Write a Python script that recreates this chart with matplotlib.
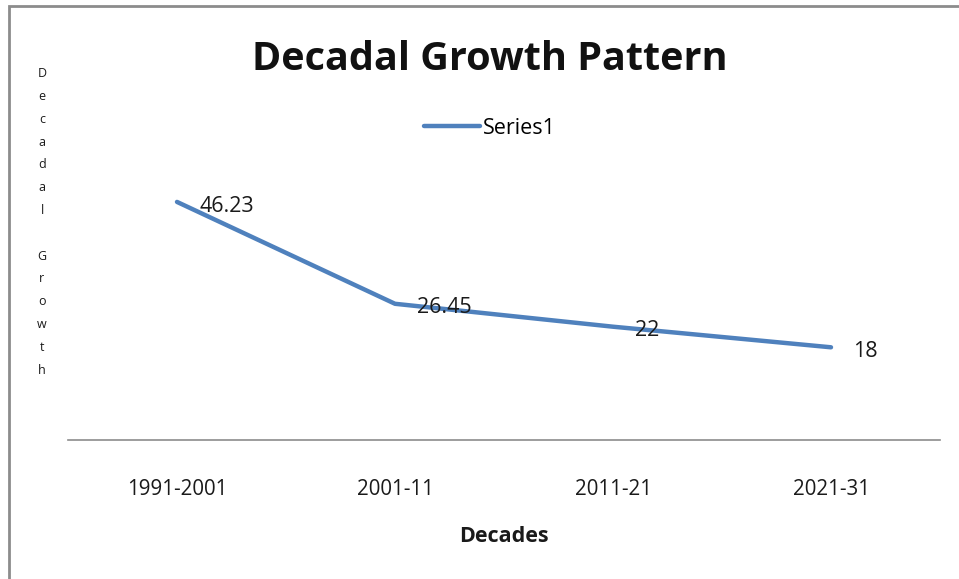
import matplotlib.pyplot as plt
from matplotlib.patches import Rectangle

decades = ['1991-2001', '2001-11', '2011-21', '2021-31']
growth = [46.23, 26.45, 22, 18]

plt.rcParams['font.family'] = ['Open Sans', 'DejaVu Sans']

fig = plt.figure(figsize=(9.59, 5.79), dpi=100)
ax = fig.add_axes([68 / 959, 139 / 579, 872 / 959, 60 * 5.15 / 579])

x = range(len(decades))
ax.plot(x, growth, color='#4F81BD', linewidth=3.2, label='Series1',
        solid_capstyle='round', solid_joinstyle='round')

# data labels to the right of each point
for xi, yi in zip(x, growth):
    ax.annotate(f'{yi:g}', (xi, yi), xytext=(16, -3), textcoords='offset points',
                ha='left', va='center', fontsize=15.5, color='#1a1a1a')

ax.set_xlim(-0.5, len(decades) - 0.5)
ax.set_ylim(0, 60)
ax.set_xticks(list(x))
ax.set_xticklabels(decades, fontsize=14.8, color='#1a1a1a')
ax.tick_params(axis='x', length=0, pad=28)
ax.set_yticks([])
for side in ['top', 'right', 'left']:
    ax.spines[side].set_visible(False)
ax.spines['bottom'].set_color('#8c8c8c')
ax.spines['bottom'].set_linewidth(1.2)

fig.text(504 / 959, 1 - 537 / 579, 'Decades', ha='center', va='center',
         fontsize=15.5, fontweight='bold', color='#1a1a1a')

fig.text(490 / 959, 1 - 60 / 579, 'Decadal Growth Pattern', ha='center', va='center',
         fontsize=28.5, fontweight='bold', color='#111111')

# stacked vertical axis title
ylab = '\n'.join('Decadal') + '\n\n' + '\n'.join('Growth')
fig.text(42 / 959, 1 - 222 / 579, ylab, ha='center', va='center',
         fontsize=9, linespacing=1.98, color='#1a1a1a')

leg = fig.legend(loc='center', bbox_to_anchor=(490 / 959, 1 - 128 / 579), frameon=False,
                 fontsize=15.5, handlelength=2.6, handletextpad=0.15)

# chart border (top and left visible)
fig.patches.append(Rectangle((9 / 959, -0.1), 2, 1.1 - 6 / 579, transform=fig.transFigure,
                             fill=False, edgecolor='#8c8c8c', linewidth=2))

fig.savefig('out.png', dpi=100)
